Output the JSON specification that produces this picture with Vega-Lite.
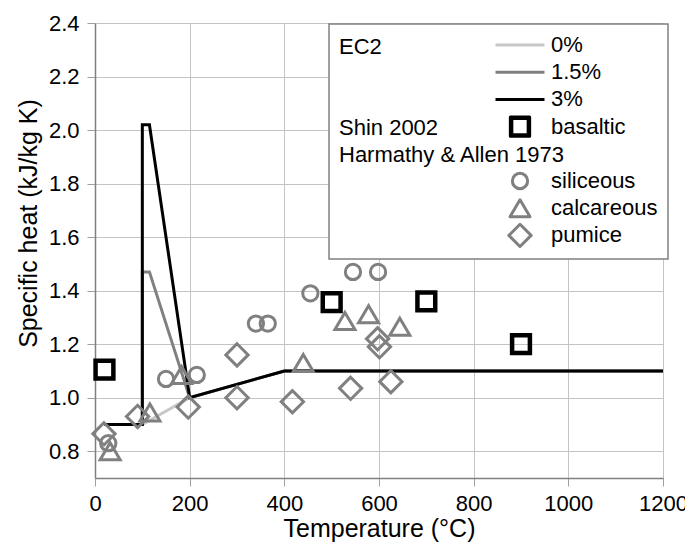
{
  "$schema": "https://vega.github.io/schema/vega-lite/v6.json",
  "width": 568,
  "height": 455,
  "autosize": {"type": "none"},
  "padding": {"left": 95, "top": 23, "right": 22, "bottom": 72},
  "background": "white",
  "config": {
    "font": "Liberation Sans",
    "view": {"stroke": null},
    "axis": {
      "labelFont": "Liberation Sans",
      "titleFont": "Liberation Sans",
      "labelColor": "black",
      "titleColor": "black",
      "labelFontSize": 22,
      "titleFontSize": 25,
      "titleFontWeight": "normal",
      "gridColor": "#c4c4c4",
      "gridWidth": 1,
      "domainColor": "#808080",
      "domainWidth": 1.5,
      "tickColor": "#a0a0a0",
      "tickSize": 8
    }
  },
  "datasets": {
    "ec2": [
      {"s": "0%", "T": 20, "cp": 0.9, "o": 1},
      {"s": "0%", "T": 100, "cp": 0.9, "o": 2},
      {"s": "0%", "T": 200, "cp": 1.0, "o": 3},
      {"s": "0%", "T": 400, "cp": 1.1, "o": 4},
      {"s": "0%", "T": 1200, "cp": 1.1, "o": 5},
      {"s": "1.5%", "T": 20, "cp": 0.9, "o": 1},
      {"s": "1.5%", "T": 100, "cp": 0.9, "o": 2},
      {"s": "1.5%", "T": 100, "cp": 1.47, "o": 3},
      {"s": "1.5%", "T": 115, "cp": 1.47, "o": 4},
      {"s": "1.5%", "T": 200, "cp": 1.0, "o": 5},
      {"s": "1.5%", "T": 400, "cp": 1.1, "o": 6},
      {"s": "1.5%", "T": 1200, "cp": 1.1, "o": 7},
      {"s": "3%", "T": 20, "cp": 0.9, "o": 1},
      {"s": "3%", "T": 100, "cp": 0.9, "o": 2},
      {"s": "3%", "T": 100, "cp": 2.02, "o": 3},
      {"s": "3%", "T": 115, "cp": 2.02, "o": 4},
      {"s": "3%", "T": 200, "cp": 1.0, "o": 5},
      {"s": "3%", "T": 400, "cp": 1.1, "o": 6},
      {"s": "3%", "T": 1200, "cp": 1.1, "o": 7}
    ],
    "pts": [
      {"s": "basaltic", "T": 20, "cp": 1.105},
      {"s": "basaltic", "T": 500, "cp": 1.357},
      {"s": "basaltic", "T": 700, "cp": 1.36},
      {"s": "basaltic", "T": 900, "cp": 1.2},
      {"s": "siliceous", "T": 28, "cp": 0.83},
      {"s": "siliceous", "T": 150, "cp": 1.07},
      {"s": "siliceous", "T": 215, "cp": 1.085},
      {"s": "siliceous", "T": 340, "cp": 1.277},
      {"s": "siliceous", "T": 365, "cp": 1.277},
      {"s": "siliceous", "T": 455, "cp": 1.39},
      {"s": "siliceous", "T": 545, "cp": 1.47},
      {"s": "siliceous", "T": 598, "cp": 1.47},
      {"s": "calcareous", "T": 32, "cp": 0.8},
      {"s": "calcareous", "T": 116, "cp": 0.945},
      {"s": "calcareous", "T": 183, "cp": 1.085},
      {"s": "calcareous", "T": 440, "cp": 1.13},
      {"s": "calcareous", "T": 528, "cp": 1.287},
      {"s": "calcareous", "T": 578, "cp": 1.312},
      {"s": "calcareous", "T": 644, "cp": 1.265},
      {"s": "pumice", "T": 19, "cp": 0.865},
      {"s": "pumice", "T": 90, "cp": 0.93},
      {"s": "pumice", "T": 197, "cp": 0.965},
      {"s": "pumice", "T": 300, "cp": 1.16},
      {"s": "pumice", "T": 300, "cp": 1.0},
      {"s": "pumice", "T": 417, "cp": 0.985},
      {"s": "pumice", "T": 540, "cp": 1.035},
      {"s": "pumice", "T": 597, "cp": 1.22},
      {"s": "pumice", "T": 601, "cp": 1.19},
      {"s": "pumice", "T": 625, "cp": 1.06}
    ]
  },
  "layer": [
    {
      "data": {"name": "ec2"},
      "mark": {"type": "line", "strokeWidth": 3, "opacity": 1},
      "encoding": {
        "x": {
          "field": "T", "type": "quantitative",
          "scale": {"domain": [0, 1200], "nice": false, "zero": false},
          "axis": {
            "values": [0, 200, 400, 600, 800, 1000, 1200],
            "format": "d",
            "title": "Temperature (°C)",
            "grid": true, "labelFlush": false, "labelOverlap": false,
            "labelPadding": 7, "titlePadding": 2
          }
        },
        "y": {
          "field": "cp", "type": "quantitative",
          "scale": {"domain": [0.7, 2.4], "nice": false, "zero": false},
          "axis": {
            "values": [0.8, 1.0, 1.2, 1.4, 1.6, 1.8, 2.0, 2.2, 2.4],
            "format": ".1f",
            "title": "Specific heat (kJ/kg K)",
            "grid": true, "labelFlush": false, "labelOverlap": false,
            "labelPadding": 8, "titlePadding": 7, "titleY": 200
          }
        },
        "order": {"field": "o", "type": "quantitative"},
        "color": {
          "field": "s", "type": "nominal",
          "scale": {
            "domain": ["0%", "1.5%", "3%", "basaltic", " ", "siliceous", "calcareous", "pumice"],
            "range": ["#c8c8c8", "#808080", "#000000", "#000000", "#ffffff", "#808080", "#808080", "#808080"]
          },
          "legend": {
            "title": ["EC2", "\u2800", "\u2800", "Shin 2002", "Harmathy & Allen 1973"],
            "orient": "none", "legendX": 234, "legendY": 1,
            "titleOrient": "left", "titleAnchor": "start", "titleBaseline": "top", "titleAlign": "left",
            "titleFont": "Liberation Sans", "titleFontSize": 22, "titleFontWeight": "normal",
            "titleLineHeight": 27, "titlePadding": -57, "titleLimit": 400, "titleColor": "black",
            "labelFont": "Liberation Sans", "labelFontSize": 22, "labelColor": "black",
            "labelOffset": 20, "labelLimit": 300,
            "symbolSize": 100, "symbolStrokeWidth": 3, "symbolOffset": 0, "symbolOpacity": 1,
            "rowPadding": 1.2, "padding": 10,
            "strokeColor": "#808080", "fillColor": "white",
            "encode": {
              "symbols": {"update": {"fill": {"value": "transparent"}, "strokeJoin": {"value": "round"}}},
              "title": {"update": {"dy": {"value": 3}}},
              "legend": {"update": {"strokeWidth": {"value": 1.5}}}
            }
          }
        }
      }
    },
    {
      "data": {"name": "pts"},
      "mark": {"type": "point", "filled": false, "strokeWidth": 3, "size": 100, "opacity": 1},
      "encoding": {
        "x": {"field": "T", "type": "quantitative"},
        "y": {"field": "cp", "type": "quantitative"},
        "color": {"field": "s", "type": "nominal"},
        "shape": {
          "field": "s", "type": "nominal",
          "scale": {
            "domain": ["0%", "1.5%", "3%", "basaltic", " ", "siliceous", "calcareous", "pumice"],
            "range": [
              "M-4.9,-2.23M4.9,2.23M-4.9,0H4.9",
              "M-4.9,-2.23M4.9,2.23M-4.9,0H4.9",
              "M-4.9,-2.23M4.9,2.23M-4.9,0H4.9",
              "M-4.9,-2.23M4.9,2.23M-1.63,-1.63H1.63V1.63H-1.63ZM-1.93,-1.93H1.93V1.93H-1.93Z",
              "M-4.9,-2.23M4.9,2.23",
              "M-4.9,-2.23M4.9,2.23M1.53,0C1.53,0.845,0.845,1.53,0,1.53C-0.845,1.53,-1.53,0.845,-1.53,0C-1.53,-0.845,-0.845,-1.53,0,-1.53C0.845,-1.53,1.53,-0.845,1.53,0Z",
              "M-4.9,-2.23M4.9,2.23M0,-1.7L2,1.7L-2,1.7Z",
              "M-4.9,-2.23M4.9,2.23M0,-2.23L2.23,0L0,2.23L-2.23,0Z"
            ]
          }
        }
      }
    }
  ]
}
